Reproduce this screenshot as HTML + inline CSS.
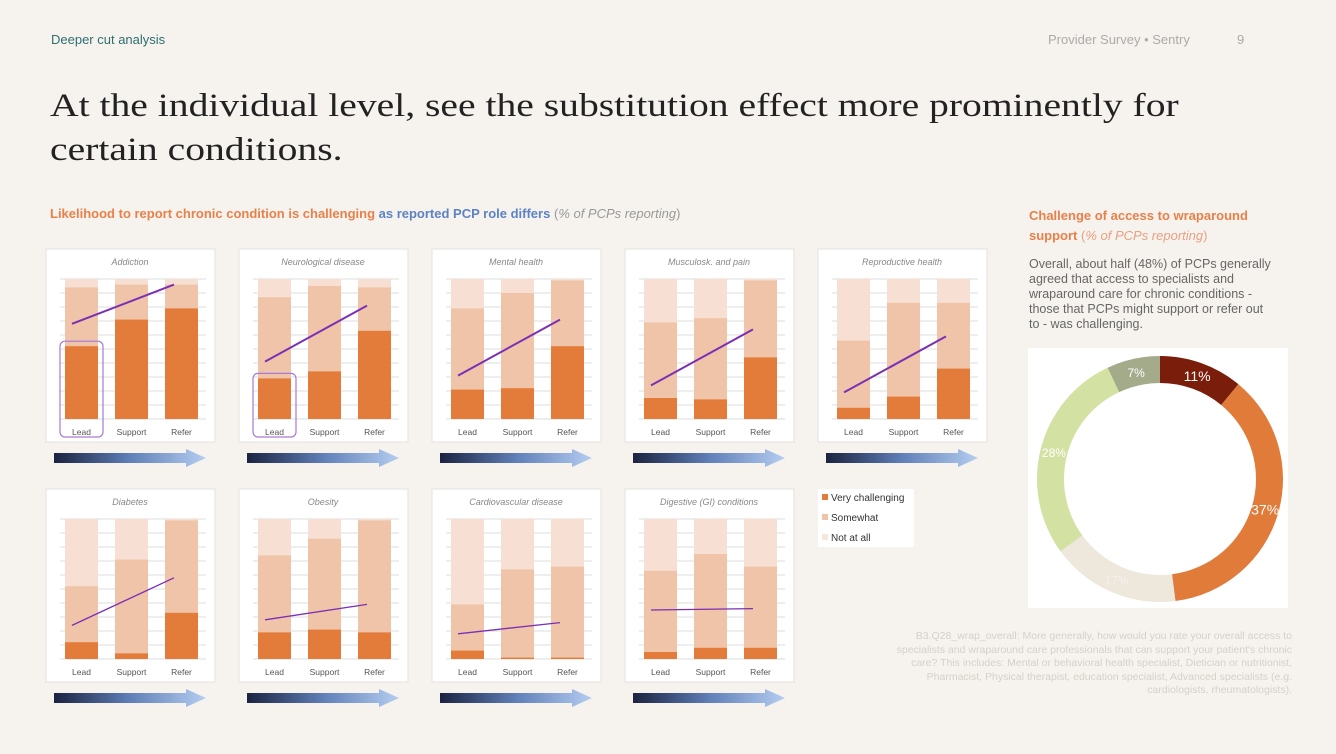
<!DOCTYPE html>
<html><head><meta charset="utf-8"><style>
body{margin:0;width:1336px;height:754px;background:#f6f3ee;font-family:"Liberation Sans",sans-serif;position:relative;overflow:hidden}
.a{position:absolute;margin:0}
</style></head><body>
<div class="a" style="left:51px;top:32px;font-size:13px;color:#2e6e70">Deeper cut analysis</div>
<div class="a" style="left:1048px;top:32px;font-size:13px;color:#aaa">Provider Survey • Sentry</div>
<div class="a" style="left:1237px;top:32px;font-size:13px;color:#aaa">9</div>
<h1 class="a" style="left:50px;top:84px;font:33px/44px 'Liberation Serif',serif;color:#222;font-weight:normal;white-space:nowrap;transform:scaleX(1.2);transform-origin:0 0">At the individual level, see the substitution effect more prominently for<br>certain conditions.</h1>
<div class="a" style="left:50px;top:206px;font-size:13px;font-weight:bold;color:#e8804a">Likelihood to report chronic condition is challenging <span style="color:#5d82c4">as reported PCP role differs</span> <span style="color:#999;font-weight:normal">(<i>% of PCPs reporting</i>)</span></div>
<div class="a" style="left:1029px;top:206px;width:260px;font-size:13px;line-height:20px;font-weight:bold;color:#e8804a">Challenge of access to wraparound support <span style="font-weight:normal;color:#e8a080">(<i>% of PCPs reporting</i>)</span></div>
<div class="a" style="left:1029px;top:257px;font-size:12.5px;line-height:15px;color:#666;white-space:nowrap">Overall, about half (48%) of PCPs generally<br>agreed that access to specialists and<br>wraparound care for chronic conditions -<br>those that PCPs might support or refer out<br>to - was challenging.</div>
<div class="a" style="left:800px;top:630px;width:492px;font-size:10.5px;line-height:13.5px;color:#d4d0ca;text-align:right;white-space:nowrap">B3.Q28_wrap_overall: More generally, how would you rate your overall access to<br>specialists and wraparound care professionals that can support your patient's chronic<br>care? This includes: Mental or behavioral health specialist, Dietician or nutritionist,<br>Pharmacist, Physical therapist, education specialist, Advanced specialists (e.g.<br>cardiologists, rheumatologists).</div>
<svg id="s" class="a" style="left:0;top:0" width="1336" height="754" xmlns="http://www.w3.org/2000/svg">
<defs><linearGradient id="g" x1="0" x2="1"><stop offset="0" stop-color="#1b2340"/><stop offset="0.5" stop-color="#5f7fb8"/><stop offset="1" stop-color="#b4cdf0"/></linearGradient></defs>
</svg>
<script>
const titles=["Addiction","Neurological disease","Mental health","Musculosk. and pain","Reproductive health","Diabetes","Obesity","Cardiovascular disease","Digestive (GI) conditions"];
const categories=["Lead","Support","Refer"];
const veryVals=[[52,71,79],[29,34,63],[21,22,52],[15,14,44],[8,16,36],[12,4,33],[19,21,19],[6,1,1],[5,8,8]];
const somewhatCum=[[94,96,96],[87,95,94],[79,90,99],[69,72,99],[56,83,83],[52,71,99],[74,86,99],[39,64,66],[63,75,66]];
const lineStart=[68,41,31,24,19,24,28,18,35];
const lineEnd=[96,81,71,64,59,58,39,26,36];
const highlighted=[0,1];
const donutLabels=["11%","37%","17%","28%","7%"];
const donutVals=[11,37,17,28,7];
const donutColors=["#7a1e0b","#e07b3a","#ede7dc","#d3e1a2","#a4ab8b"];
const NS="http://www.w3.org/2000/svg",svg=document.getElementById('s');
function el(t,a,p){const e=document.createElementNS(NS,t);for(const k in a)e.setAttribute(k,a[k]);(p||svg).appendChild(e);return e;}
titles.forEach((t,i)=>{
 const px=46+(i%5)*193, py=i<5?249:489, top=py+30, H=140, bot=top+H;
 const y=v=>bot-v/100*H, bx=j=>px+19+j*50;
 const g=el('g',{});
 
 
 el('rect',{x:px,y:py,width:169,height:193,fill:'#fff',stroke:'#e6e2dc'},g);
 const tt=el('text',{x:px+84,y:py+16,'text-anchor':'middle','font-size':9,'font-style':'italic',fill:'#888'},g);tt.textContent=t;
 for(let k=0;k<=10;k++)el('line',{x1:px+14,x2:px+160,y1:y(k*10),y2:y(k*10),stroke:'#ddd','stroke-width':1},g);
 categories.forEach((c,j)=>{
  const b=el('rect',{x:bx(j),y:y(100),width:33,height:H,fill:'#f7e0d3'},g);
  
  const s=el('rect',{x:bx(j),y:y(somewhatCum[i][j]),width:33,height:somewhatCum[i][j]/100*H,fill:'#f0c4a8'},g);
  
  const v=el('rect',{x:bx(j),y:y(veryVals[i][j]),width:33,height:veryVals[i][j]/100*H,fill:'#e37c3b'},g);
  
  const l=el('text',{x:bx(j)+16.5,y:bot+16,'text-anchor':'middle','font-size':8.5,fill:'#555'},g);l.textContent=c;
 });
 if(highlighted.includes(i)){el('rect',{x:bx(0)-5,y:y(veryVals[i][0])-5,width:43,height:veryVals[i][0]/100*H+23,rx:5,fill:'none',stroke:'#a67ad6','stroke-width':1.2},g);}
 const tl=el('line',{x1:bx(0)+7,y1:y(lineStart[i]),x2:bx(2)+9,y2:y(lineEnd[i]),stroke:'#7b2fb5','stroke-width':i<5?2:1.3},g);
 
 const ay=py+209;
 const ar=el('polygon',{points:`${px+8},${ay-5} ${px+140},${ay-5} ${px+140},${ay-9} ${px+160},${ay} ${px+140},${ay+9} ${px+140},${ay+5} ${px+8},${ay+5}`,fill:'url(#g)'},g);
 
});
const lg=el('g',{});
el('rect',{x:818,y:489,width:96,height:58,fill:'#fff'},lg);
[["Very challenging","#e37c3b"],["Somewhat","#f0c4a8"],["Not at all","#f7e6dc"]].forEach((d,k)=>{
 el('rect',{x:822,y:494+k*20,width:6,height:6,fill:d[1]},lg);
 const t=el('text',{x:831,y:501+k*20,'font-size':10,fill:'#333'},lg);t.textContent=d[0];
});
const dg=el('g',{});
el('rect',{x:1028,y:348,width:260,height:260,fill:'#fff'},dg);
const cx=1160,cy=479,R=123,r=96;let a0=0;const tot=donutVals.reduce((a,b)=>a+b,0);
donutVals.forEach((v,k)=>{
 const a1=a0+v/tot*2*Math.PI,P=(rad,a)=>[cx+rad*Math.sin(a),cy-rad*Math.cos(a)],L=(a1-a0)>Math.PI?1:0;
 const [x1,y1]=P(R,a0),[x2,y2]=P(R,a1),[x3,y3]=P(r,a1),[x4,y4]=P(r,a0);
 const p=el('path',{d:`M${x1},${y1}A${R},${R} 0 ${L} 1 ${x2},${y2}L${x3},${y3}A${r},${r} 0 ${L} 0 ${x4},${y4}Z`,fill:donutColors[k]},dg);
 
 const [lx,ly]=P((R+r)/2,(a0+a1)/2);
 const t=el('text',{x:lx,y:ly+5,'text-anchor':'middle','font-size':k<2?14:12,fill:k==2?'#f4f1ec':'#fff'},dg);t.textContent=donutLabels[k];
 a0=a1;
});
</script>
</body></html>
